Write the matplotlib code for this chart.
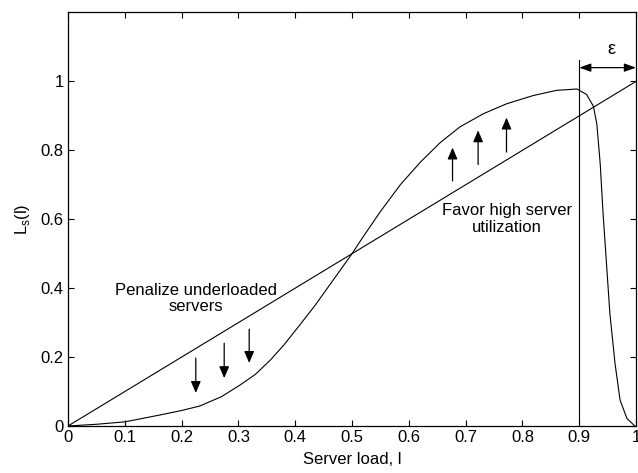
import matplotlib.pyplot as plt

plt.rcParams['font.family'] = ['Liberation Sans', 'DejaVu Sans']

# S-shaped load curve L_s(l)
load = [0, 0.05, 0.1, 0.162, 0.2, 0.232, 0.27, 0.303, 0.33, 0.356, 0.38,
        0.408, 0.435, 0.461, 0.5, 0.52, 0.549, 0.585, 0.62, 0.655, 0.69,
        0.731, 0.772, 0.819, 0.86, 0.896, 0.913, 0.925, 0.931, 0.937,
        0.942, 0.948, 0.954, 0.963, 0.972, 0.984, 0.998]
score = [0, 0.005, 0.012, 0.032, 0.045, 0.058, 0.085, 0.119, 0.15, 0.191,
         0.235, 0.293, 0.35, 0.41, 0.5, 0.55, 0.62, 0.70, 0.765, 0.822,
         0.868, 0.906, 0.935, 0.959, 0.974, 0.978, 0.962, 0.928, 0.877,
         0.761, 0.617, 0.472, 0.327, 0.182, 0.075, 0.022, 0.0]

# reference line y = l
diag_x = [0, 1]
diag_y = [0, 1]

# arrows: x, y start, y end
down_x = [0.225, 0.275, 0.319]
down_top = [0.197, 0.240, 0.281]
down_bot = [0.096, 0.139, 0.183]
up_x = [0.677, 0.722, 0.772]
up_bot = [0.711, 0.759, 0.795]
up_top = [0.808, 0.858, 0.895]

cutoff = 0.9
xticks = [0, 0.1, 0.2, 0.3, 0.4, 0.5, 0.6, 0.7, 0.8, 0.9, 1]
xlabels = ['0', '0.1', '0.2', '0.3', '0.4', '0.5', '0.6', '0.7', '0.8', '0.9', '1']
yticks = [0, 0.2, 0.4, 0.6, 0.8, 1]
ylabels = ['0', '0.2', '0.4', '0.6', '0.8', '1']

fig = plt.figure(figsize=(6.38, 4.73), dpi=100)
ax = fig.add_axes([68 / 638, 1 - 426 / 473, 568 / 638, 413.5 / 473])

ax.plot(load, score, color='black', lw=0.8)
ax.plot(diag_x, diag_y, color='black', lw=0.8)
ax.plot([cutoff, cutoff], [0, 1.062], color='black', lw=0.8)

arrow_kw = dict(arrowstyle='-|>,head_length=0.7,head_width=0.3', color='black',
                lw=0.9, shrinkA=0, shrinkB=0)
for x, y0, y1 in zip(down_x, down_top, down_bot):
    ax.annotate('', xy=(x, y1), xytext=(x, y0), arrowprops=arrow_kw)
for x, y0, y1 in zip(up_x, up_bot, up_top):
    ax.annotate('', xy=(x, y1), xytext=(x, y0), arrowprops=arrow_kw)

ax.annotate('', xy=(1.0, 1.04), xytext=(cutoff, 1.04),
            arrowprops=dict(arrowstyle='<|-|>,head_length=0.7,head_width=0.25',
                            color='black', lw=0.9, shrinkA=0, shrinkB=0))
ax.text(0.957, 1.092, '\u03b5', ha='center', va='center', fontsize=13)

ax.text(0.226, 0.37, 'Penalize underloaded\nservers', ha='center', va='center',
        fontsize=12, linespacing=1.15)
ax.text(0.773, 0.6, 'Favor high server\nutilization', ha='center', va='center',
        fontsize=12, linespacing=1.15)

ax.set_xlim(0, 1)
ax.set_ylim(0, 1.2)
ax.set_xticks(xticks)
ax.set_xticklabels(xlabels)
ax.set_yticks(yticks)
ax.set_yticklabels(ylabels)
ax.tick_params(direction='in', length=4, width=0.8, top=True, right=True,
               labelsize=12, pad=3)
for s in ax.spines.values():
    s.set_linewidth(0.9)

ax.set_xlabel('Server load, l', fontsize=12, labelpad=5)
ax.set_ylabel('L$_\\mathregular{s}$(l)', fontsize=12, labelpad=6)

fig.savefig('out.png', dpi=100)
